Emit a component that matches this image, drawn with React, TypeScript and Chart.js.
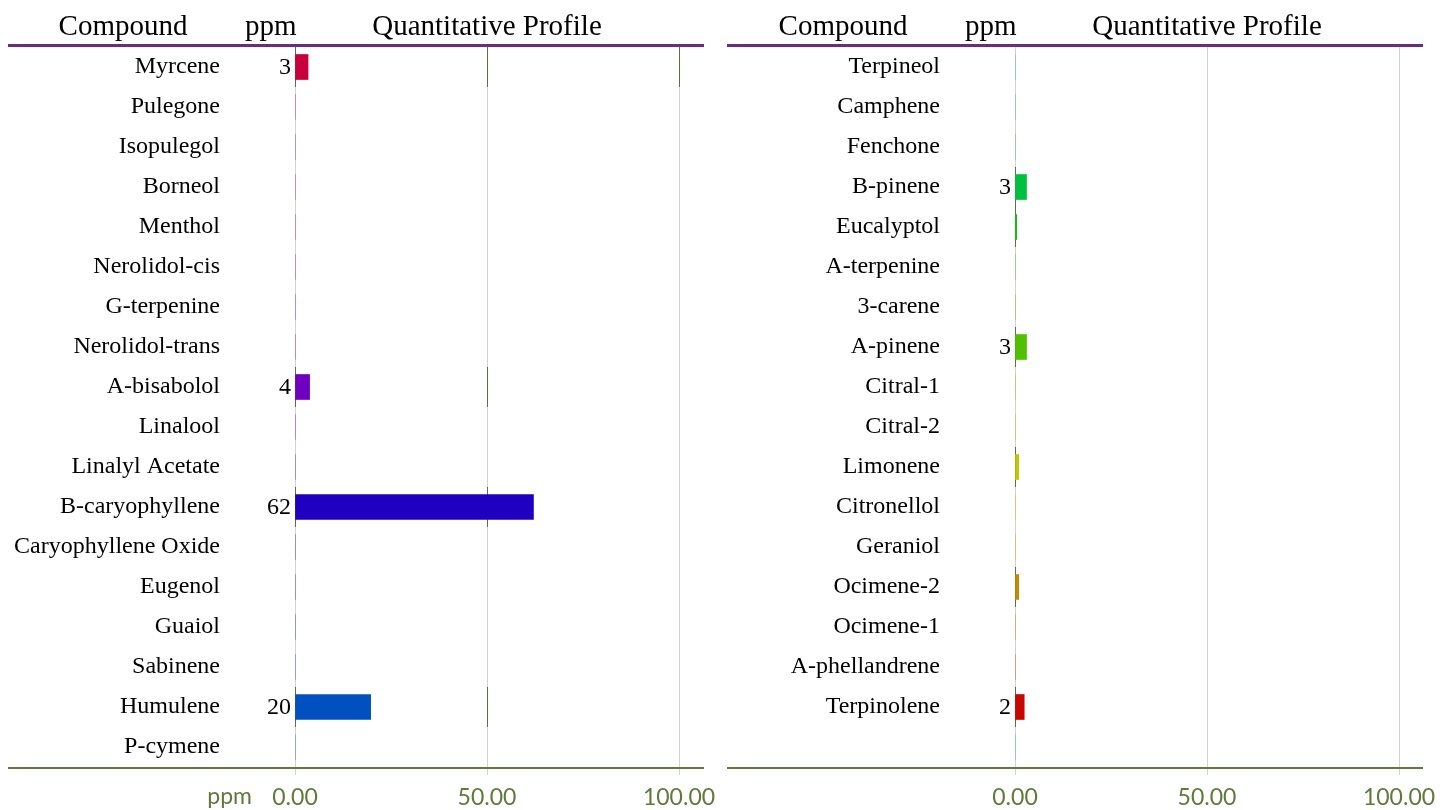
import React, { useEffect, useRef } from "react";
import { Chart, registerables } from "chart.js";

Chart.register(...registerables);

// ---------- data ----------
const leftCompounds = [
  "Myrcene", "Pulegone", "Isopulegol", "Borneol", "Menthol", "Nerolidol-cis",
  "G-terpenine", "Nerolidol-trans", "A-bisabolol", "Linalool", "Linalyl Acetate",
  "B-caryophyllene", "Caryophyllene Oxide", "Eugenol", "Guaiol", "Sabinene",
  "Humulene", "P-cymene",
];
const leftPpm = [3.4, 0, 0, 0, 0, 0, 0, 0, 3.8, 0, 0, 62.1, 0, 0, 0, 0, 19.7, 0];
const leftColors = [
  "#c8003c", "#c0005a", "#b80070", "#b00088", "#a000a0", "#9000b0",
  "#8400b8", "#7800bc", "#7000c0", "#5800c0", "#4000c0",
  "#2000c0", "#1010c0", "#0020c0", "#0030c0", "#0040c0",
  "#0050c0", "#0060c0",
];

const rightCompounds = [
  "Terpineol", "Camphene", "Fenchone", "B-pinene", "Eucalyptol", "A-terpenine",
  "3-carene", "A-pinene", "Citral-1", "Citral-2", "Limonene", "Citronellol",
  "Geraniol", "Ocimene-2", "Ocimene-1", "A-phellandrene", "Terpinolene",
];
const rightPpm = [0, 0, 0, 3.0, 0.45, 0, 0, 3.0, 0, 0, 0.95, 0, 0, 0.95, 0, 0, 2.4];
const rightColors = [
  "#00c0a0", "#00c080", "#00c060", "#00c040", "#10c010", "#20c000",
  "#40c000", "#50c000", "#70c400", "#90c400", "#c0c800", "#c8b000",
  "#c8a000", "#c88800", "#c86000", "#c83000", "#c80800",
];

const xTickValues = [0, 50, 100];
const headerTitles = ["Compound", "ppm", "Quantitative Profile"];
const axisUnit = "ppm";

// ---------- style ----------
const PURPLE = "#6e2a80";
const GREEN = "#617a3b";
const GRID = "#d2d2c8";
const DARKGRID = "#5d7040";
const SERIF = "'Liberation Serif', 'Times New Roman', serif";
const SANS = "Lato, 'Open Sans', sans-serif";

type PanelProps = {
  compounds: string[];
  values: number[];
  colors: string[];
  rows: number;
  width: number;
  lineStart: number;
  lineEnd: number;
  darkAt: number[];
  extraDark: number[][];
  showUnit: boolean;
};

function makeDecor(p: PanelProps) {
  return {
    id: "decor",
    beforeDatasetsDraw(chart: any) {
      const ctx = chart.ctx;
      const xs = chart.scales.x;
      const ys = chart.scales.y;
      const half = (ys.getPixelForValue(1) - ys.getPixelForValue(0)) / 2;
      ctx.save();
      ctx.strokeStyle = DARKGRID;
      ctx.lineWidth = 1;
      const seg = (i: number, v: number) => {
        const x = Math.round(xs.getPixelForValue(v)) + 0.5;
        const yc = ys.getPixelForValue(i);
        ctx.beginPath();
        ctx.moveTo(x, yc - half);
        ctx.lineTo(x, yc + half);
        ctx.stroke();
      };
      p.values.forEach((v, i) => {
        if (v > 0) p.darkAt.forEach((g) => seg(i, g));
      });
      p.extraDark.forEach(([i, g]) => seg(i, g));
      ctx.restore();
    },
    afterDraw(chart: any) {
      const ctx = chart.ctx;
      const xs = chart.scales.x;
      const ys = chart.scales.y;
      const area = chart.chartArea;
      ctx.save();
      // header line
      ctx.fillStyle = PURPLE;
      ctx.fillRect(p.lineStart, 44, p.lineEnd - p.lineStart, 3);
      // bottom axis line
      ctx.fillStyle = GREEN;
      ctx.fillRect(p.lineStart, 767, p.lineEnd - p.lineStart, 2);
      // headers
      ctx.fillStyle = "#000";
      ctx.font = `29px ${SERIF}`;
      ctx.textBaseline = "alphabetic";
      ctx.textAlign = "center";
      ctx.fillText(headerTitles[0], 123, 35);
      ctx.textAlign = "left";
      ctx.fillText(headerTitles[1], 245, 35);
      ctx.textAlign = "center";
      ctx.fillText(headerTitles[2], (area.left + area.right) / 2, 35);
      // value labels
      ctx.font = `24px ${SERIF}`;
      ctx.textAlign = "right";
      ctx.textBaseline = "middle";
      p.values.forEach((v, i) => {
        if (v >= 1.5) {
          ctx.fillText(String(Math.round(v)), xs.getPixelForValue(0) - 4, ys.getPixelForValue(i) + 1);
        }
      });
      if (p.showUnit) {
        ctx.fillStyle = GREEN;
        ctx.font = `23px ${SANS}`;
        ctx.textAlign = "right";
        ctx.textBaseline = "middle";
        ctx.fillText(axisUnit, 252, 797);
      }
      ctx.restore();
    },
  };
}

function Panel(p: PanelProps) {
  const ref = useRef<HTMLCanvasElement | null>(null);
  useEffect(() => {
    if (!ref.current) return;
    const labels = p.compounds.slice();
    while (labels.length < p.rows) labels.push("");
    const data = p.values.slice();
    while (data.length < p.rows) data.push(0);
    const chart = new Chart(ref.current, {
      type: "bar",
      data: {
        labels,
        datasets: [
          {
            data,
            backgroundColor: p.colors,
            borderWidth: 0,
            barThickness: 25,
          },
        ],
      },
      options: {
        indexAxis: "y",
        animation: false,
        responsive: false,
        maintainAspectRatio: false,
        layout: { padding: { left: 0, right: p.width - 679, top: 47, bottom: 0 } },
        plugins: { legend: { display: false }, tooltip: { enabled: false } },
        scales: {
          x: {
            type: "linear",
            min: 0,
            max: 100,
            afterBuildTicks: (s: any) => {
              s.ticks = xTickValues.map((v) => ({ value: v }));
            },
            afterFit: (s: any) => {
              s.height = 43;
              s.paddingLeft = 0;
              s.paddingRight = 0;
            },
            ticks: {
              autoSkip: false,
              maxRotation: 0,
              color: GREEN,
              font: { family: SANS, size: 23 },
              padding: 9,
              callback: (v: any) => Number(v).toFixed(2),
            },
            grid: {
              color: GRID,
              lineWidth: 1,
              drawTicks: true,
              tickLength: 8,
              tickColor: GRID,
            },
            border: { display: false },
          },
          y: {
            type: "category",
            afterFit: (s: any) => {
              s.width = 295;
              s.paddingTop = 0;
              s.paddingBottom = 0;
            },
            grid: { display: false, drawTicks: false },
            border: { display: false },
            ticks: {
              autoSkip: false,
              color: "#000",
              font: { family: SERIF, size: 24 },
              padding: 75,
            },
          },
        },
      },
      plugins: [makeDecor(p)],
    } as any);
    return () => chart.destroy();
  }, []);
  return (
    <canvas
      ref={ref}
      width={p.width}
      height={810}
      style={{ width: p.width, height: 810, display: "block" }}
    />
  );
}

export default function App() {
  return (
    <div
      style={{
        position: "absolute",
        left: 0,
        top: 0,
        width: 1448,
        height: 810,
        background: "#fff",
        overflow: "hidden",
      }}
    >
      <div style={{ position: "absolute", left: 0, top: 0 }}>
        <Panel
          compounds={leftCompounds}
          values={leftPpm}
          colors={leftColors}
          rows={18}
          width={720}
          lineStart={8}
          lineEnd={704}
          darkAt={[0, 50]}
          extraDark={[[0, 100]]}
          showUnit={true}
        />
      </div>
      <div style={{ position: "absolute", left: 720, top: 0 }}>
        <Panel
          compounds={rightCompounds}
          values={rightPpm}
          colors={rightColors}
          rows={18}
          width={728}
          lineStart={7}
          lineEnd={703}
          darkAt={[0]}
          extraDark={[]}
          showUnit={false}
        />
      </div>
    </div>
  );
}
